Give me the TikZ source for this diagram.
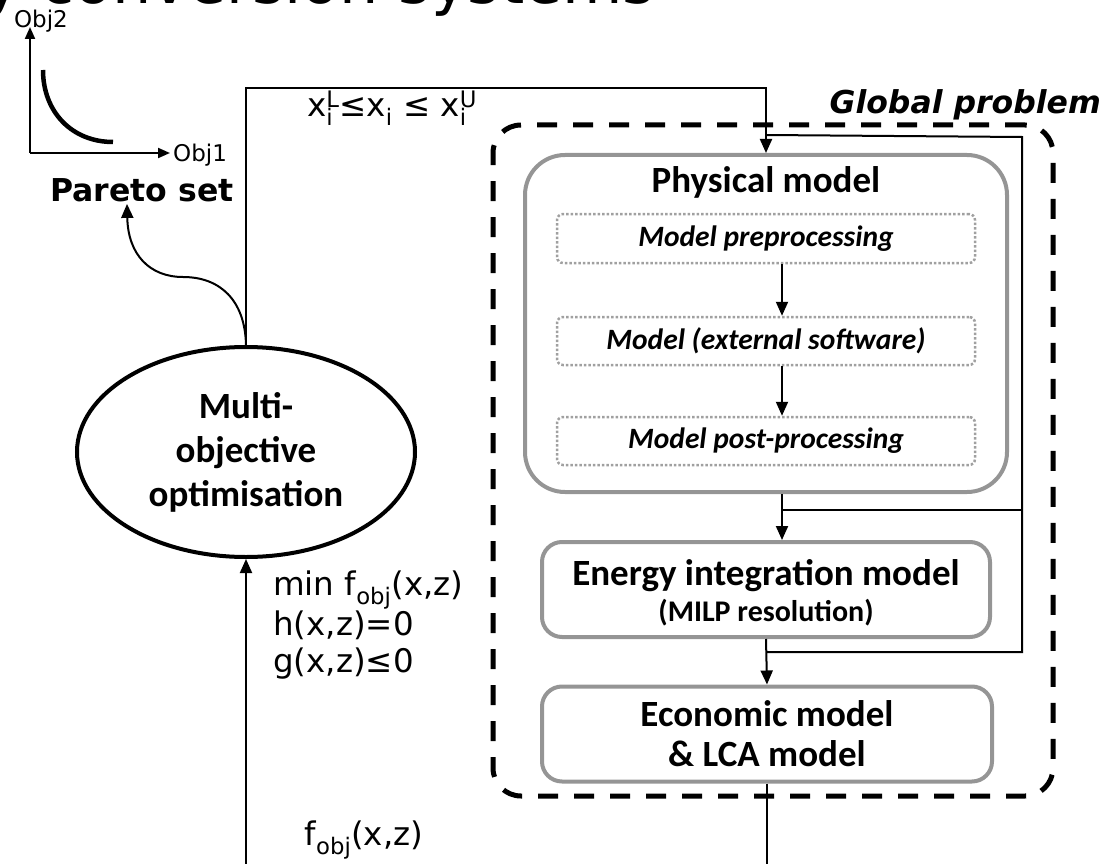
\documentclass[tikz,border=0pt]{standalone}
\usepackage{fontspec}
\setmainfont{DejaVu Sans}[ItalicFont={DejaVu Sans Oblique},BoldFont={DejaVu Sans Bold},BoldItalicFont={DejaVu Sans Bold Oblique}]
\newfontfamily\carl{Carlito}
\usetikzlibrary{arrows.meta,shapes.geometric}
\definecolor{boxgray}{HTML}{959595}
\definecolor{dotgray}{HTML}{A0A0A0}
\newcommand{\subsup}[2]{\rlap{\textsubscript{#1}}\textsuperscript{#2}}
\begin{document}
\begin{tikzpicture}[x=1pt,y=-1pt,
  conn/.style={line width=2pt},
  arr/.style={conn,-{Triangle[length=14pt,width=12pt]}},
  axarr/.style={conn,-{Triangle[length=12pt,width=10pt]}},
  graybox/.style={draw=boxgray,line width=4pt,rounded corners=20pt,inner sep=0pt},
  subbox/.style={draw=dotgray,line width=2.5pt,dash pattern=on 2.5pt off 2pt,rounded corners=6pt,inner sep=0pt,minimum width=418pt},
  bigl/.style={font=\carl\bfseries\fontsize{37}{44}\selectfont,align=center},
  subl/.style={font=\carl\bfseries\itshape\fontsize{29.5}{34}\selectfont},
  math/.style={font=\fontsize{32.5}{37}\selectfont,inner sep=0pt},
  small/.style={font=\fontsize{23}{26}\selectfont,inner sep=0pt},
]
\useasboundingbox (0,0) rectangle (1106,864);

% partially visible title
\node[font=\fontsize{62}{70}\selectfont,anchor=base west,inner sep=0pt] (title) at (-16,4) {y conversion systems};

% Pareto sketch
\coordinate (orig) at (30,153);
\node[small] (obj2) at (41,21) {Obj2};
\node[small,anchor=west] (obj1) at (173,155) {Obj1};
\coordinate (ytip) at (30,27);
\coordinate (xtip) at (170,153);
\draw[axarr] (orig) -- (ytip);
\draw[axarr] (orig) -- (xtip);
\coordinate (c1) at (43,70);
\coordinate (c2) at (113,142);
\draw[line width=4.5pt] (c1) .. controls (43,112) and (72,142) .. (c2);
\node[font=\bfseries\fontsize{31.5}{36}\selectfont,inner sep=0pt] (pareto) at (142,190) {Pareto set};

% Multi-objective optimisation
\node[ellipse,draw,line width=4pt,minimum width=338pt,minimum height=210pt,inner sep=0pt,bigl] (multi) at (246,452) {Multi-\\objective\\optimisation};

\draw[conn,-{Triangle[length=14pt,width=12pt]}] (multi.north) .. controls (245,300) and (220,277) .. (183,277) .. controls (150,277) and (128,255) .. ([xshift=-15pt,yshift=-2pt]pareto.south);

% Global problem
\node[draw,line width=5pt,dash pattern=on 20pt off 16pt,rounded corners=28pt,minimum width=560pt,minimum height=671pt,inner sep=0pt] (global) at (773,460.5) {};
\node[font=\bfseries\itshape\fontsize{31.5}{36}\selectfont,anchor=base east,inner sep=0pt] (gtitle) at (1101,114) {Global problem};

% Physical model
\node[graybox,rounded corners=40pt,minimum width=482pt,minimum height=337pt] (phys) at (766,323.5) {};
\node[bigl,inner sep=0pt] (physt) at (766,182) {Physical model};
\node[subbox,minimum height=49pt] (pre) at (766,238.5) {};
\node[subl,inner sep=0pt] at (pre) {Model preprocessing};
\node[subbox,minimum height=48pt] (ext) at (766,341) {};
\node[subl,inner sep=0pt] at (ext) {Model (external software)};
\node[subbox,minimum height=48pt] (post) at (766,441) {};
\node[subl,inner sep=0pt] at (post) {Model post-processing};
\draw[arr] ([xshift=16pt]pre.south) -- ([xshift=16pt]ext.north);
\draw[arr] ([xshift=16pt]ext.south) -- ([xshift=16pt]post.north);

% Energy integration
\node[graybox,minimum width=448pt,minimum height=95pt] (energy) at (766,589.5) {};
\node[bigl,inner sep=0pt] at (766,576) {Energy integration model};
\node[font=\carl\bfseries\fontsize{30}{34}\selectfont,inner sep=0pt] at (766,613) {(MILP resolution)};

% Economic
\node[graybox,minimum width=450pt,minimum height=95pt,bigl,font=\carl\bfseries\fontsize{37}{40}\selectfont] (econ) at (767,734) {Economic model\\\& LCA model};

% connectors
\coordinate (topy) at (0,88);
\draw[arr] (multi.north) |- (phys.north |- topy) -- (phys.north);
\path (phys.north) ++(0,-18) coordinate (j1);
\coordinate (busT) at (1022,137);
\coordinate (busM) at (1022,510);
\coordinate (busB) at (1022,652);
\coordinate (pe) at ([xshift=16pt]phys.south);
\draw[conn] (j1) -- (busT) -- (busB) -- (busB -| energy.south);
\draw[conn] (busM) -- (busM -| pe);
\draw[arr] (pe) -- (pe |- energy.north);
\draw[arr] (energy.south) -- (econ.north);
\coordinate (bot) at (0,866);
\draw[conn] (econ.south) -- (econ.south |- bot);
\draw[arr] (multi.south |- bot) -- (multi.south);

% labels
\node[math,anchor=center] (xlim) at (392,108) {x\subsup{i}{L}≤x\textsubscript{i} ≤ x\subsup{i}{U}};
\node[math,anchor=north west,align=left] (cons) at (273,571) {min f\textsubscript{obj}(x,z)\\h(x,z)=0\\g(x,z)≤0};
\node[math] (fobj) at (364,840) {f\textsubscript{obj}(x,z)};
\end{tikzpicture}
\end{document}
